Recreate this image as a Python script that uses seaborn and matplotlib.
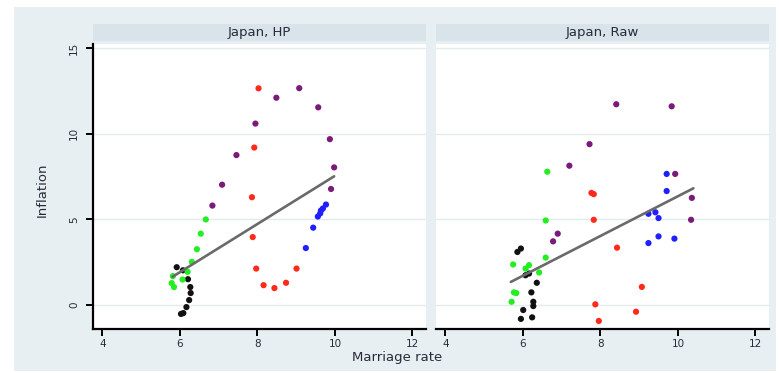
import matplotlib
matplotlib.use("Agg")
import matplotlib.pyplot as plt
import numpy as np
import pandas as pd
import seaborn as sns
from matplotlib.patches import Rectangle

# ---- Japan, HP (trend component) ----
hp_black_x = [5.92, 6.08, 6.21, 6.27, 6.28, 6.24, 6.17, 6.09, 6.03]
hp_black_y = [2.21, 2.03, 1.51, 1.05, 0.70, 0.29, -0.12, -0.47, -0.52]
hp_green_x = [6.67, 6.54, 6.44, 6.31, 6.20, 6.07, 5.82, 5.79, 5.85]
hp_green_y = [5.00, 4.17, 3.26, 2.52, 1.94, 1.49, 1.69, 1.28, 1.05]
hp_red_x = [8.03, 7.92, 7.86, 7.88, 7.97, 8.16, 8.44, 8.74, 9.01]
hp_red_y = [12.66, 9.20, 6.30, 3.97, 2.13, 1.16, 0.99, 1.30, 2.13]
hp_blue_x = [9.77, 9.69, 9.64, 9.62, 9.56, 9.44, 9.25]
hp_blue_y = [5.87, 5.64, 5.52, 5.35, 5.17, 4.52, 3.33]
hp_purple_x = [8.49, 9.08, 9.57, 7.95, 9.87, 7.46, 9.98, 9.90, 7.09, 6.84]
hp_purple_y = [12.11, 12.67, 11.55, 10.60, 9.69, 8.76, 8.04, 6.78, 7.03, 5.81]
hp_fit_x = [5.81, 9.98]
hp_fit_y = [1.65, 7.52]

# ---- Japan, Raw ----
raw_black_x = [5.95, 5.86, 6.16, 6.07, 6.36, 6.22, 6.27, 6.27, 6.01, 5.95, 6.24]
raw_black_y = [3.30, 3.10, 1.84, 1.74, 1.30, 0.74, 0.19, -0.06, -0.29, -0.81, -0.72]
raw_green_x = [6.63, 6.59, 6.59, 5.75, 6.16, 6.07, 6.42, 5.77, 5.83, 5.71]
raw_green_y = [7.79, 4.94, 2.77, 2.37, 2.33, 2.13, 1.90, 0.74, 0.70, 0.19]
raw_red_x = [7.77, 7.83, 7.83, 8.43, 9.07, 7.87, 8.92, 7.96]
raw_red_y = [6.55, 6.48, 4.98, 3.35, 1.06, 0.04, -0.39, -0.93]
raw_blue_x = [9.71, 9.71, 9.24, 9.42, 9.50, 9.50, 9.91, 9.24]
raw_blue_y = [7.66, 6.66, 5.33, 5.42, 5.08, 4.01, 3.88, 3.62]
raw_purple_x = [8.41, 9.84, 7.72, 7.20, 9.93, 10.36, 10.34, 6.90, 6.78]
raw_purple_y = [11.73, 11.61, 9.40, 8.14, 7.66, 6.26, 4.98, 4.17, 3.72]
raw_fit_x = [5.69, 10.40]
raw_fit_y = [1.35, 6.82]

panel_titles = ["Japan, HP", "Japan, Raw"]
x_ticks = [4, 6, 8, 10, 12]
y_ticks = [0, 5, 10, 15]

palette = {"black": "#111111", "green": "#22ee22", "red": "#ff2a1a",
           "blue": "#1f1fff", "purple": "#7a1a7a"}


def frame(series):
    rows = []
    for name, xs, ys in series:
        for x, y in zip(xs, ys):
            rows.append({"group": name, "x": x, "y": y})
    return pd.DataFrame(rows)


hp_df = frame([("black", hp_black_x, hp_black_y), ("green", hp_green_x, hp_green_y),
               ("red", hp_red_x, hp_red_y), ("blue", hp_blue_x, hp_blue_y),
               ("purple", hp_purple_x, hp_purple_y)])
raw_df = frame([("black", raw_black_x, raw_black_y), ("green", raw_green_x, raw_green_y),
                ("red", raw_red_x, raw_red_y), ("blue", raw_blue_x, raw_blue_y),
                ("purple", raw_purple_x, raw_purple_y)])
fits = [pd.DataFrame({"x": hp_fit_x, "y": hp_fit_y}),
        pd.DataFrame({"x": raw_fit_x, "y": raw_fit_y})]

sns.set_theme(style="white")
plt.rcParams["font.family"] = ["DejaVu Sans"]

W, H = 779, 373
fig = plt.figure(figsize=(W / 100, H / 100), dpi=100)
fig.patch.set_facecolor("white")
bg = "#e8eff2"
strip_col = "#d8e3ea"
grid_col = "#e2ecef"
text_col = "#2a2a3a"

# outer graph region
fig.patches.append(Rectangle((14 / W, 2 / H), 762 / W, 364 / H, transform=fig.transFigure,
                             facecolor=bg, edgecolor="none", zorder=-2))


def px_rect(x0, y0, x1, y1):
    return [x0 / W, 1 - y1 / H, (x1 - x0) / W, (y1 - y0) / H]


axes = [fig.add_axes(px_rect(93, 44, 426, 329)), fig.add_axes(px_rect(436, 44, 769, 329))]

for i, (ax, df) in enumerate(zip(axes, [hp_df, raw_df])):
    ax.set_zorder(2)
    ax.set_facecolor("white")
    for yv in y_ticks:
        ax.axhline(yv, color=grid_col, lw=1.0, zorder=0)
    sns.scatterplot(data=df, x="x", y="y", hue="group", palette=palette, s=20,
                    linewidth=0, legend=False, ax=ax, zorder=3)
    sns.lineplot(data=fits[i], x="x", y="y", color="#6a6a6a", lw=1.9, ax=ax, zorder=4)
    ax.set_xlim(3.76, 12.35)
    ax.set_ylim(-1.4, 15.25)
    ax.set_xticks(x_ticks)
    ax.set_xticklabels([str(t) for t in x_ticks], fontsize=7.5, color=text_col)
    ax.set_xlabel("")
    ax.set_ylabel("")
    for s in ["top", "right"]:
        ax.spines[s].set_visible(False)
    ax.spines["bottom"].set_color("black")
    ax.spines["bottom"].set_linewidth(1.6)
    ax.tick_params(axis="x", bottom=True, direction="out", length=5, width=1.4,
                   color="black", pad=2)
    if i == 0:
        ax.set_yticks(y_ticks)
        ax.set_yticklabels([str(t) for t in y_ticks], fontsize=7.5, color=text_col,
                           rotation=90, va="center")
        ax.spines["left"].set_color("black")
        ax.spines["left"].set_linewidth(1.6)
        ax.tick_params(axis="y", left=True, direction="out", length=5, width=1.4,
                       color="black", pad=5)
    else:
        ax.spines["left"].set_visible(False)
        ax.set_yticks([])
    # panel strip
    pos = ax.get_position()
    fig.patches.append(Rectangle((pos.x0, 1 - 41 / H), pos.width, 17 / H,
                                 transform=fig.transFigure, facecolor=strip_col,
                                 edgecolor="none", zorder=-1))
    fig.text(pos.x0 + pos.width / 2, 1 - 32.5 / H, panel_titles[i], ha="center",
             va="center", fontsize=9.5, color=text_col)

fig.text(397 / W, 1 - 358 / H, "Marriage rate", ha="center", va="center",
         fontsize=9.5, color=text_col)
fig.text(42 / W, 1 - 190 / H, "Inflation", ha="center", va="center", rotation=90,
         fontsize=9.5, color=text_col)

fig.savefig("out.png", dpi=100, facecolor="white")
